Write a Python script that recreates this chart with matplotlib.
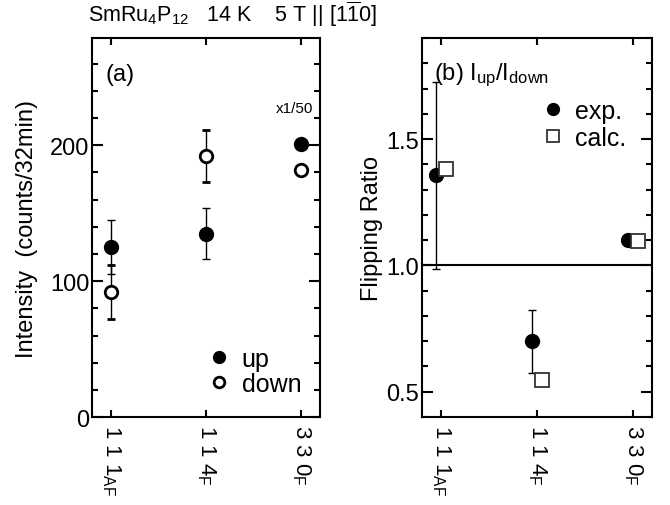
import numpy as np
import matplotlib
matplotlib.use("Agg")
import matplotlib.pyplot as plt
from matplotlib.ticker import MultipleLocator, FormatStrFormatter

plt.rcParams['font.family'] = ['Liberation Sans', 'DejaVu Sans']
plt.rcParams['mathtext.fontset'] = 'custom'
plt.rcParams['mathtext.rm'] = 'Liberation Sans'
plt.rcParams['mathtext.it'] = 'Liberation Sans:italic'

# reflections
peaks = ["1 1 1$_{\\mathrm{AF}}$", "1 1 4$_{\\mathrm{F}}$", "3 3 0$_{\\mathrm{F}}$"]

# (a) intensities (counts/32min), 330 scaled x1/50
int_up = [125, 135, 201]
int_up_err = [20, 19, 0]
int_down = [92, 192, 182]
int_down_err = [20, 19, 0]

# (b) flipping ratio
fr_exp = [1.357, 0.70, 1.10]
fr_exp_err = [0.37, 0.125, 0.0]
fr_calc = [1.38, 0.547, 1.098]

x = np.arange(len(peaks))

fig = plt.figure(figsize=(6.70, 5.06), dpi=100)
axa = fig.add_axes([0.1373, 0.1739, 0.3403, 0.749])
axb = fig.add_axes([0.6299, 0.1739, 0.3433, 0.749])


def style_axes(ax):
    for s in ax.spines.values():
        s.set_linewidth(1.5)
    ax.tick_params(axis='y', which='major', direction='in', length=8, width=1.5,
                   left=True, right=True, labelsize=17, pad=2)
    ax.tick_params(axis='y', which='minor', direction='in', length=4.5, width=1.5,
                   left=True, right=True)
    ax.tick_params(axis='x', which='major', direction='in', length=5, width=1.5,
                   top=True, bottom=True, labelsize=16, pad=5)
    ax.set_xticks(x)
    ax.set_xticklabels(peaks, rotation=270, va='top', ha='center')
    ax.set_xlim(-0.2, 2.2)


# panel (a)
up = axa.errorbar(x, int_up, yerr=int_up_err, fmt='o', color='black', ms=10,
                  elinewidth=1, capsize=3, capthick=1, zorder=3)
down = axa.errorbar(x, int_down, yerr=int_down_err, fmt='o', mfc='white', mec='black',
                    mew=2, ms=9, ecolor='black', elinewidth=1, capsize=3, capthick=1,
                    zorder=3)
style_axes(axa)
axa.set_ylim(0, 279)
axa.yaxis.set_major_locator(MultipleLocator(100))
axa.yaxis.set_minor_locator(MultipleLocator(20))
axa.set_ylabel("Intensity  (counts/32min)", fontsize=17)
axa.yaxis.set_label_coords(-0.235, 0.5)
axa.text(0.06, 0.905, "(a)", transform=axa.transAxes, fontsize=17, va='center')
axa.text(0.97, 0.815, "x1/50", transform=axa.transAxes, fontsize=11,
         ha='right', va='center')
axa.legend([up[0], down[0]], ['up', 'down'], loc='center left',
           bbox_to_anchor=(0.46, 0.12), frameon=False, fontsize=18,
           handlelength=0.8, handletextpad=0.5, labelspacing=0.05, borderpad=0,
           markerscale=0.85)

# panel (b)
axb.axhline(1.0, color='black', lw=1.5, zorder=1)
exp = axb.errorbar(x - 0.05, fr_exp, yerr=fr_exp_err, fmt='o', color='black', ms=10,
                   elinewidth=1, capsize=3, capthick=1, zorder=3)
calc, = axb.plot(x + 0.05, fr_calc, 's', mfc='white', mec='#333333', mew=1.3, ms=9.5,
                 zorder=4)
style_axes(axb)
axb.set_ylim(0.4, 1.9)
axb.yaxis.set_major_locator(MultipleLocator(0.5))
axb.yaxis.set_minor_locator(MultipleLocator(0.1))
axb.yaxis.set_major_formatter(FormatStrFormatter('%.1f'))
axb.set_ylabel("Flipping Ratio", fontsize=17)
axb.yaxis.set_label_coords(-0.17, 0.5)
axb.text(0.05, 0.905, "(b) $\\mathrm{I_{up}/I_{down}}$", transform=axb.transAxes,
         fontsize=17, va='center')
axb.legend([exp[0], calc], ['exp.', 'calc.'], loc='center left',
           bbox_to_anchor=(0.47, 0.772), frameon=False, fontsize=18,
           handlelength=0.8, handletextpad=0.5, labelspacing=0.1, borderpad=0,
           markerscale=0.85)

fig.text(0.131, 0.972, "SmRu$_4$P$_{12}$   14 K    5 T || [1$\\overline{1}$0]",
         fontsize=15.5, ha='left', va='center')

fig.savefig("out.png", dpi=100)
